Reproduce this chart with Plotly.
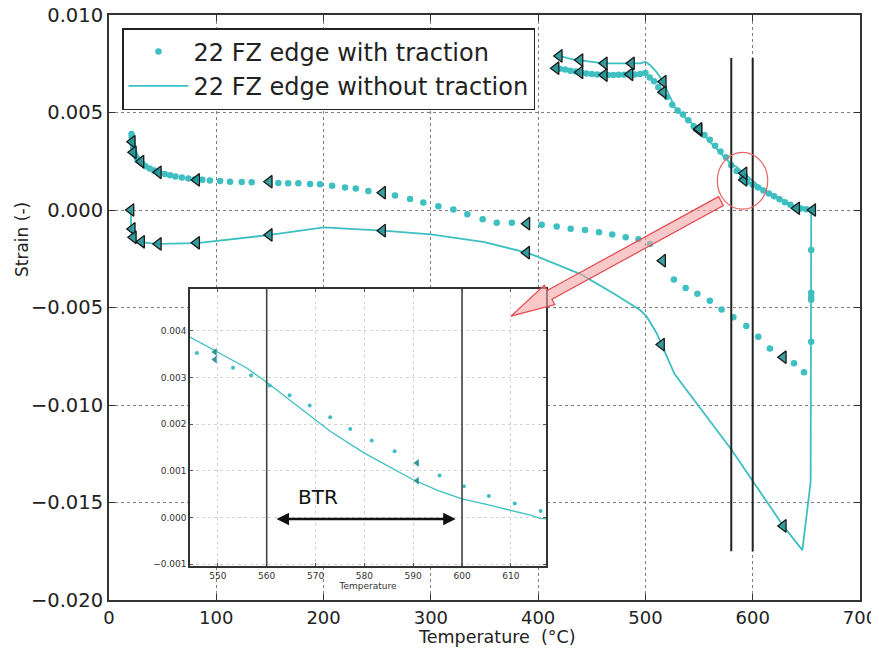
import math
import plotly.graph_objects as go

# ---------------- data ----------------
# "22 FZ edge with traction" (dots)
with_x = [21.0, 21.2, 21.5, 22.0, 22.5, 23.3, 24.5, 26, 28, 31, 34, 38, 42, 47, 52, 57, 62, 68, 74, 80,
          87, 94, 103.5, 112.8, 123.7, 133, 157.8, 167, 176.5, 187.4, 196.7, 208, 220, 230, 241.7,
          266.6, 280.6, 293, 307, 321, 334, 348.3, 361.4, 375.5, 403.3, 417.3, 430.3, 443.7, 456.7,
          469.1, 481.6, 493.5, 504.2, 526.5, 537.5, 548.4, 560, 571, 582, 594, 605.2, 616, 638.5, 647.8,
          654.5, 654.5, 654.5, 654.5, 654.5,
          655, 650, 645, 641, 635, 630, 625, 620, 615, 610, 605, 600, 595, 590, 585, 580, 575, 570,
          565, 560, 555, 550, 545, 540, 535, 530, 525, 520, 512, 508, 504, 500, 495, 490, 485, 480,
          475, 470, 465, 460, 455, 450, 445, 440, 435, 430, 425, 420, 417]
with_y = [0.00390, 0.00375, 0.00360, 0.00340, 0.00320, 0.00300, 0.00282, 0.00265, 0.00252, 0.00238,
          0.00225, 0.00213, 0.00203, 0.00193, 0.00185, 0.00178, 0.00172, 0.00167, 0.00162, 0.00158,
          0.00155, 0.00151, 0.00149, 0.00145, 0.00143, 0.00142, 0.00138, 0.00137, 0.00137, 0.00133,
          0.00132, 0.00125, 0.00116, 0.00110, 0.00097, 0.00075, 0.00056, 0.00038, 0.00019, 0.00003,
          -0.00022, -0.00048, -0.00065, -0.00065, -0.00076, -0.00084, -0.00096, -0.00103, -0.00114,
          -0.00125, -0.00140, -0.00150, -0.00174, -0.00356, -0.00400, -0.00430, -0.00465, -0.00510,
          -0.00550, -0.00595, -0.00650, -0.00710, -0.00786, -0.00832,
          -0.00205, -0.00424, -0.00445, -0.00460, -0.00675,
          0.00000, 0.00004, 0.00008, 0.00012, 0.00027, 0.00040, 0.00055, 0.00070, 0.00085, 0.00100,
          0.00115, 0.00130, 0.00145, 0.00165, 0.00200, 0.00230, 0.00270, 0.00300, 0.00330, 0.00360,
          0.00385, 0.00410, 0.00430, 0.00460, 0.00490, 0.00510, 0.00540, 0.00580, 0.00630, 0.00660,
          0.00680, 0.00703, 0.00698, 0.00695, 0.00695, 0.00694, 0.00693, 0.00692, 0.00692, 0.00693,
          0.00695, 0.00697, 0.00700, 0.00705, 0.00710, 0.00714, 0.00720, 0.00725, 0.00727]

# "22 FZ edge without traction" (line, in drawing order)
without_x = [20.5, 20.5, 21.5, 23, 26, 30.4, 38, 46, 82, 150, 200, 255, 300, 350, 389.3, 400, 440,
             470, 495, 501.2, 510.5, 515, 523, 527, 580.4, 598.4, 628.5, 646.3, 654, 654.5, 655.9,
             645, 635, 625, 615, 606, 600, 592, 585, 579, 570, 560, 550, 540, 529, 522, 516.6, 510,
             505, 500, 495, 487, 475, 462, 450, 439, 430, 420]
without_y = [0.0, -0.00097, -0.00130, -0.00145, -0.00158, -0.00165, -0.00170, -0.00174, -0.00170,
             -0.00128, -0.00089, -0.00106, -0.00125, -0.00165, -0.00219, -0.00240, -0.00330,
             -0.00427, -0.00513, -0.00547, -0.00632, -0.00690, -0.00786, -0.00840, -0.01231,
             -0.01376, -0.01620, -0.01744, -0.01393, -0.00017, 0.00000,
             0.00010, 0.00030, 0.00060, 0.00090, 0.00120, 0.00150, 0.00188, 0.00220, 0.00240,
             0.00290, 0.00350, 0.00412, 0.00460, 0.00510, 0.00590, 0.00658, 0.00710, 0.00740,
             0.00760, 0.00752, 0.00752, 0.00752, 0.00752, 0.00760, 0.00769, 0.00775, 0.00790]

# triangle markers
tri_with_x = [21.7, 22.7, 29.8, 46, 81.7, 149.4, 255, 389.5, 516, 628.5,
              641, 591.9, 549.9, 516.6, 485.6, 461.7, 439, 416.7]
tri_with_y = [0.00350, 0.00296, 0.00248, 0.00193, 0.00154, 0.00145, 0.00089, -0.00070, -0.00260,
              -0.00755, 0.00009, 0.00154, 0.00410, 0.00604, 0.00696, 0.00692, 0.00706, 0.00727]
tri_without_x = [20.5, 21.7, 22.7, 30.4, 46, 81.7, 149.4, 255, 389.3, 515, 628.5,
                 655.9, 591.9, 549.9, 516.6, 487, 461.7, 439, 419.7]
tri_without_y = [0.0, -0.00097, -0.00140, -0.00163, -0.00174, -0.00168, -0.00128, -0.00106,
                 -0.00219, -0.00690, -0.01620, 0.00000, 0.00188, 0.00416, 0.00658, 0.00752,
                 0.00752, 0.00769, 0.00790]

# inset (zoom of 545-617 °C)
in_line_x = [544.3, 550, 556, 560, 565, 570, 573, 580, 585, 590, 595, 600, 605, 610, 614, 616, 617.2]
in_line_y = [0.00387, 0.00355, 0.00320, 0.00290, 0.00250, 0.00210, 0.00185, 0.00138, 0.00110,
             0.00081, 0.00058, 0.00040, 0.00028, 0.00016, 0.00005, -0.00002, -0.00003]
in_dot_x = [545.7, 553.1, 556.8, 560.6, 564.7, 568.8, 573, 577.1, 581.5, 586.2, 595.4, 600.4,
            605.5, 610.8, 616.1]
in_dot_y = [0.00353, 0.00321, 0.00305, 0.00283, 0.00262, 0.00240, 0.00215, 0.00190, 0.00165,
            0.00142, 0.00090, 0.00067, 0.00046, 0.00030, 0.00014]
in_tri_x = [549.4, 549.4, 590.8, 590.8]
in_tri_y = [0.00355, 0.00339, 0.00117, 0.00079]

x_ticks = [0, 100, 200, 300, 400, 500, 600, 700]
y_ticks = [0.010, 0.005, 0.0, -0.005, -0.010, -0.015, -0.020]
y_ticktext = ["0.010", "0.005", "0.000", "\u22120.005", "\u22120.010", "\u22120.015", "\u22120.020"]
in_x_ticks = [550, 560, 570, 580, 590, 600, 610]
in_y_ticks = [0.004, 0.003, 0.002, 0.001, 0.0, -0.001]
in_y_ticktext = ["0.004", "0.003", "0.002", "0.001", "0.000", "\u22120.001"]

BTR_LINES = [580, 600]          # main chart vertical lines (°C)
BTR_LINE_Y = [0.0078, -0.0175]
IN_BTR_LINES = [560, 600]       # inset vertical lines
BTR_ARROW = (561.7, 598.7, -0.00003)
BTR_LABEL = (570.5, 0.00045)
CIRCLE = (567, 614, 0.00004, 0.00296)
ARROW_TAIL = (570.4, 0.00046)
ARROW_TIP = (374.7, -0.00544)

# ---------------- layout geometry ----------------
# the page body has an 8px default margin; the figure is sized so that the
# plot area lands on page pixels x 109..860, y 15..600
OFF = 8
W, H = 879 - OFF, 651 - OFF
ML, MR, MT, MB = 109 - OFF, 19, 15 - OFF, 51
PW, PH = W - ML - MR, H - MT - MB
X_RANGE = [0, 700]
Y_RANGE = [-0.020, 0.010]
IN_XDOM = [0.1079, 0.5819]
IN_YDOM = [0.0581, 0.5316]
IN_XRANGE = [544.3, 617.2]
IN_YRANGE = [-0.00104, 0.0049]


def paper_x(page_px):
    return (page_px - OFF - ML) / PW


def paper_y(page_py):
    return 1 - (page_py - OFF - MT) / PH


TEAL = "#3ebfc2"
TRI_FILL = "rgba(35,150,150,0.9)"
FONT = "DejaVu Sans"

fig = go.Figure()

# white cover behind the inset (hides main gridlines)
cx0 = X_RANGE[0] + IN_XDOM[0] * (X_RANGE[1] - X_RANGE[0])
cx1 = X_RANGE[0] + IN_XDOM[1] * (X_RANGE[1] - X_RANGE[0])
cy0 = Y_RANGE[0] + IN_YDOM[0] * (Y_RANGE[1] - Y_RANGE[0])
cy1 = Y_RANGE[0] + IN_YDOM[1] * (Y_RANGE[1] - Y_RANGE[0])
fig.add_trace(go.Scatter(x=[cx0, cx1, cx1, cx0, cx0], y=[cy0, cy0, cy1, cy1, cy0], mode="lines",
                         fill="toself", fillcolor="white", line=dict(width=0, color="white"),
                         hoverinfo="skip", showlegend=False))

fig.add_trace(go.Scatter(x=with_x, y=with_y, mode="markers", name="22 FZ edge with traction",
                         marker=dict(color=TEAL, size=6.5, line=dict(width=0)), legendgroup="a"))
fig.add_trace(go.Scatter(x=without_x, y=without_y, mode="lines", name="22 FZ edge without traction",
                         line=dict(color=TEAL, width=1.8), legendgroup="b"))
fig.add_trace(go.Scatter(x=tri_with_x, y=tri_with_y, mode="markers", showlegend=False,
                         marker=dict(symbol="triangle-left", size=11, color=TRI_FILL,
                                     line=dict(color="#1a1a1a", width=1.3))))
fig.add_trace(go.Scatter(x=tri_without_x, y=tri_without_y, mode="markers", showlegend=False,
                         marker=dict(symbol="triangle-left", size=11, color=TRI_FILL,
                                     line=dict(color="#1a1a1a", width=1.3))))

# inset traces
fig.add_trace(go.Scatter(x=in_line_x, y=in_line_y, mode="lines", xaxis="x2", yaxis="y2",
                         line=dict(color=TEAL, width=1.3), showlegend=False))
fig.add_trace(go.Scatter(x=in_dot_x, y=in_dot_y, mode="markers", xaxis="x2", yaxis="y2",
                         marker=dict(color=TEAL, size=4), showlegend=False))
fig.add_trace(go.Scatter(x=in_tri_x, y=in_tri_y, mode="markers", xaxis="x2", yaxis="y2",
                         marker=dict(symbol="triangle-left", size=7, color="rgba(30,140,140,0.9)",
                                     line=dict(width=0)), showlegend=False))

shapes = []
for xv in BTR_LINES:
    shapes.append(dict(type="line", xref="x", yref="y", x0=xv, x1=xv, y0=BTR_LINE_Y[0], y1=BTR_LINE_Y[1],
                       line=dict(color="#222222", width=2), layer="above"))
for xv in IN_BTR_LINES:
    shapes.append(dict(type="line", xref="x2", yref="y2 domain", x0=xv, x1=xv, y0=0, y1=1,
                       line=dict(color="#444444", width=1.6), layer="above"))
shapes.append(dict(type="circle", xref="x", yref="y", x0=CIRCLE[0], x1=CIRCLE[1], y0=CIRCLE[2],
                   y1=CIRCLE[3], line=dict(color="#e86464", width=1.2), layer="above"))

# block arrow built in pixel space then converted back to data units
sx = PW / (X_RANGE[1] - X_RANGE[0])
sy = PH / (Y_RANGE[1] - Y_RANGE[0])
tx, ty = ARROW_TAIL[0] * sx, -ARROW_TAIL[1] * sy
hx, hy = ARROW_TIP[0] * sx, -ARROW_TIP[1] * sy
L = math.hypot(hx - tx, hy - ty)
ux, uy = (hx - tx) / L, (hy - ty) / L
nx, ny = -uy, ux
SHAFT, HEADW, HEADL = 5.0, 11.0, 44.0
bx, by = hx - ux * HEADL, hy - uy * HEADL
pts = [(tx + nx * SHAFT, ty + ny * SHAFT), (bx + nx * SHAFT, by + ny * SHAFT),
       (bx + nx * HEADW, by + ny * HEADW), (hx, hy), (bx - nx * HEADW, by - ny * HEADW),
       (bx - nx * SHAFT, by - ny * SHAFT), (tx - nx * SHAFT, ty - ny * SHAFT)]
path = "M " + " L ".join(f"{px / sx:.4f},{-py / sy:.7f}" for px, py in pts) + " Z"
shapes.append(dict(type="path", xref="x", yref="y", path=path, fillcolor="rgba(245,165,165,0.6)",
                   line=dict(color="#e5474d", width=1.2), layer="above"))

annotations = [
    dict(text="Temperature  (\u00b0C)", xref="paper", yref="paper", x=paper_x(497),
         y=paper_y(637), showarrow=False, xanchor="center", yanchor="middle",
         font=dict(family=FONT, size=17.5, color="#222")),
    dict(text="Strain (-)", xref="paper", yref="paper", x=paper_x(22), y=paper_y(240),
         showarrow=False, textangle=-90, xanchor="center", yanchor="middle",
         font=dict(family=FONT, size=17, color="#222")),
    dict(text="BTR", xref="x2", yref="y2", x=BTR_LABEL[0], y=BTR_LABEL[1], showarrow=False,
         xanchor="center", yanchor="middle", font=dict(family=FONT, size=20, color="#111")),
    dict(text="", xref="x2", yref="y2", x=BTR_ARROW[1], y=BTR_ARROW[2], axref="x2", ayref="y2",
         ax=BTR_ARROW[0], ay=BTR_ARROW[2], showarrow=True, arrowhead=2, arrowside="end+start",
         arrowsize=1, arrowwidth=2.5, arrowcolor="#111"),
]

axis_common = dict(showline=True, linecolor="#333", mirror="ticks", ticks="inside",
                   zeroline=False, showgrid=True, automargin=False, ticklabeloverflow="allow")

fig.update_layout(
    width=W, height=H, margin=dict(l=ML, r=MR, t=MT, b=MB, autoexpand=False),
    paper_bgcolor="white", plot_bgcolor="white",
    font=dict(family=FONT, color="#222"),
    xaxis=dict(range=X_RANGE, tickvals=x_ticks, ticklen=6, tickwidth=1.3, tickcolor="#333",
               linewidth=2, gridcolor="#808080", griddash="dot", gridwidth=1,
               tickfont=dict(family=FONT, size=18, color="#222"), **axis_common),
    yaxis=dict(range=Y_RANGE, tickvals=y_ticks, ticktext=y_ticktext, ticklen=6, tickwidth=1.3,
               tickcolor="#333", linewidth=2, gridcolor="#808080", griddash="dot", gridwidth=1,
               tickfont=dict(family=FONT, size=19.5, color="#222"), **axis_common),
    xaxis2=dict(domain=IN_XDOM, anchor="y2", range=IN_XRANGE, tickvals=in_x_ticks, ticklen=3,
                tickcolor="#555", linewidth=1.5, gridcolor="#d4d4d4", griddash="dot",
                tickfont=dict(family=FONT, size=9, color="#333"),
                title=dict(text="Temperature", font=dict(family=FONT, size=9, color="#333"), standoff=2),
                **axis_common),
    yaxis2=dict(domain=IN_YDOM, anchor="x2", range=IN_YRANGE, tickvals=in_y_ticks,
                ticktext=in_y_ticktext, ticklen=3, tickcolor="#555", linewidth=1.5,
                gridcolor="#d4d4d4", griddash="dot",
                tickfont=dict(family=FONT, size=9, color="#333"), **axis_common),
    legend=dict(x=paper_x(122), y=paper_y(28), xanchor="left", yanchor="top",
                bgcolor="white", bordercolor="#222", borderwidth=1.5,
                font=dict(family=FONT, size=24, color="#222"), tracegroupgap=0,
                itemwidth=60),
    shapes=shapes, annotations=annotations, showlegend=True,
)

fig.write_html("out.html")
